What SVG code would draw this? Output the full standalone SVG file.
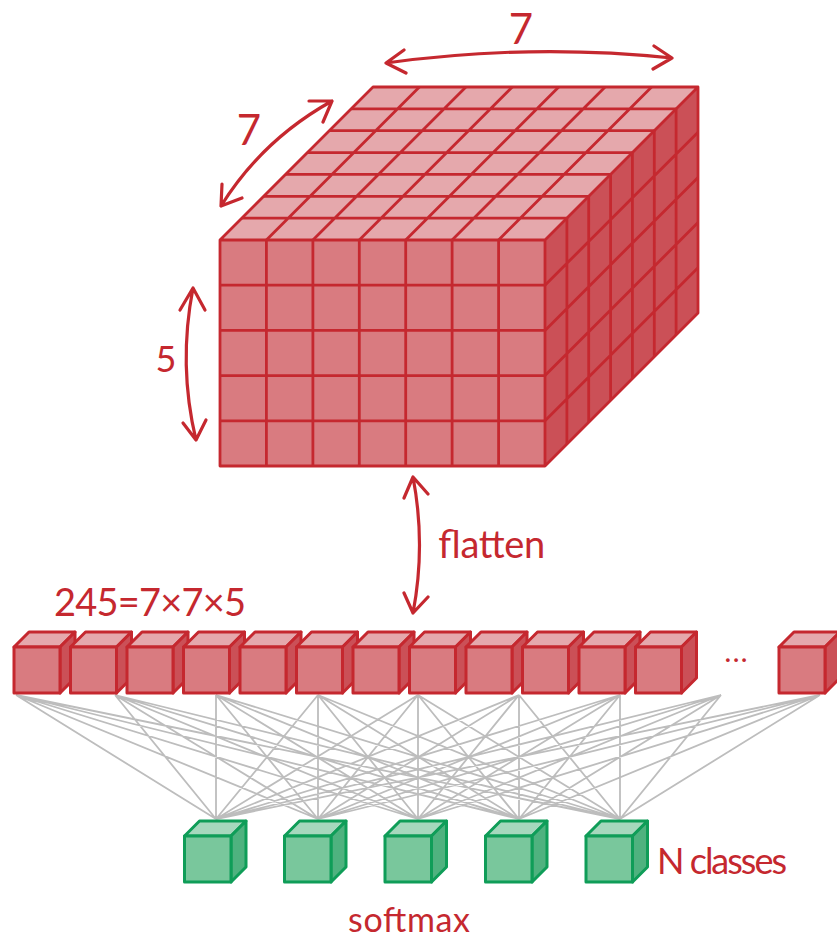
<svg xmlns="http://www.w3.org/2000/svg" width="837" height="938" viewBox="0 0 837 938">
<style>
.bg{fill:#fff}
.f{fill:#d97b80}.t{fill:#e5a8ac}.s{fill:#cb5057}
.rs{stroke:#c5282f;stroke-width:3;stroke-linejoin:round}
.grid{fill:none;stroke:#c5282f;stroke-width:2.8;stroke-linejoin:round}
.gf{fill:#79c79c}.gt{fill:#a6d8bd}.gs{fill:#4fb27f}
.gn{stroke:#0f9d58;stroke-width:3;stroke-linejoin:round}
.arrow{fill:none;stroke:#c5282f;stroke-width:3.2;stroke-linecap:round;stroke-linejoin:round}
.link{stroke:#bdbdbd;stroke-width:1.8;fill:none}
.lbl{font-family:"Lato","Liberation Sans",sans-serif;fill:#c5282f}
</style>
<defs>
<g id="red">
<polygon class="t rs" points="0,15 15,0 61,0 46,15"/>
<polygon class="s rs" points="46,15 61,0 61,46 46,61"/>
<rect class="f rs" x="0" y="15" width="46" height="46"/>
</g>
<g id="green">
<polygon class="gt gn" points="0,15 15,0 61.500,0 46.500,15"/>
<polygon class="gs gn" points="46.500,15 61.500,0 61.500,46 46.500,61"/>
<rect class="gf gn" x="0" y="15" width="46.500" height="46"/>
</g>
</defs>
<rect class="bg" width="837" height="938"/>
<g id="connectors">
<path class="link" d="M16 695L216 819M16 695L318 819M16 695L418 819M16 695L519 819M16 695L620 819M115 695L216 819M115 695L318 819M115 695L418 819M115 695L519 819M115 695L620 819M216 695L216 819M216 695L318 819M216 695L418 819M216 695L519 819M216 695L620 819M318 695L216 819M318 695L318 819M318 695L418 819M318 695L519 819M318 695L620 819M418 695L216 819M418 695L318 819M418 695L418 819M418 695L519 819M418 695L620 819M519 695L216 819M519 695L318 819M519 695L418 819M519 695L519 819M519 695L620 819M620 695L216 819M620 695L318 819M620 695L418 819M620 695L519 819M620 695L620 819M721 695L216 819M721 695L318 819M721 695L418 819M721 695L519 819M721 695L620 819M820 695L216 819M820 695L318 819M820 695L418 819M820 695L519 819M820 695L620 819"/>
<path id="arrow-width" class="arrow" d="M386 63Q530 43 672 58M404 50L386 63L406 73M654 46L672 58L653 69"/>
<path id="arrow-depth" class="arrow" d="M221 206Q262 140 332 101M242 198L221 206L222 184M309 101L332 101L323 122"/>
<path id="arrow-height" class="arrow" d="M193 288Q178 365 196 440M180 310L193 288L205 310M183 423L196 440L206 420"/>
<path id="arrow-flatten" class="arrow" d="M413 477Q426 545 413 613M404 498L413 477L428 494M404 593L413 613L428 597"/>
</g>
<g id="volume">
<polygon class="t" points="220,240 373,87 698,87 545,240"/>
<polygon class="s" points="545,240 698,87 698,313 545,466"/>
<rect class="f" x="220" y="240" width="325" height="226"/>
<path class="grid" d="M220 240L373 87H698V313L545 466H220V240H545V466M545 240L698 87"/>
<path class="grid" d="M241.900 218.100H566.900M263.700 196.300H588.700M285.600 174.400H610.600M307.400 152.600H632.400M329.300 130.700H654.300M351.100 108.900H676.100M266.400 240L419.400 87M312.900 240L465.900 87M359.300 240L512.300 87M405.700 240L558.700 87M452.100 240L605.100 87M498.600 240L651.600 87"/>
<path class="grid" d="M566.900 218.100V444.100M588.700 196.300V422.300M610.600 174.400V400.400M632.400 152.600V378.600M654.300 130.700V356.700M676.100 108.900V334.900M545 285.200L698 132.200M545 330.400L698 177.400M545 375.600L698 222.600M545 420.800L698 267.800"/>
<path class="grid" d="M266.400 240V466M312.900 240V466M359.300 240V466M405.700 240V466M452.100 240V466M498.600 240V466M220 285.200H545M220 330.400H545M220 375.600H545M220 420.800H545"/>
</g>
<g id="flat-1"><use href="#red" x="14" y="632"/></g>
<g id="flat-2"><use href="#red" x="70.500" y="632"/></g>
<g id="flat-3"><use href="#red" x="127" y="632"/></g>
<g id="flat-4"><use href="#red" x="183.500" y="632"/></g>
<g id="flat-5"><use href="#red" x="240" y="632"/></g>
<g id="flat-6"><use href="#red" x="296.500" y="632"/></g>
<g id="flat-7"><use href="#red" x="353" y="632"/></g>
<g id="flat-8"><use href="#red" x="409.500" y="632"/></g>
<g id="flat-9"><use href="#red" x="466" y="632"/></g>
<g id="flat-10"><use href="#red" x="522.500" y="632"/></g>
<g id="flat-11"><use href="#red" x="579" y="632"/></g>
<g id="flat-12"><use href="#red" x="635.500" y="632"/></g>
<g id="flat-last"><use href="#red" x="779" y="632"/></g>
<g id="out-1"><use href="#green" x="184.500" y="821"/></g>
<g id="out-2"><use href="#green" x="284.500" y="821"/></g>
<g id="out-3"><use href="#green" x="385" y="821"/></g>
<g id="out-4"><use href="#green" x="485.500" y="821"/></g>
<g id="out-5"><use href="#green" x="586" y="821"/></g>
<g id="labels">
<text class="lbl" x="521" y="44" font-size="42" text-anchor="middle">7</text>
<text class="lbl" x="249" y="145" font-size="42" text-anchor="middle">7</text>
<text class="lbl" x="166" y="372" font-size="36" text-anchor="middle">5</text>
<text class="lbl" x="438" y="558" font-size="38" textLength="107" lengthAdjust="spacing">flatten</text>
<text class="lbl" x="54" y="616" font-size="38" textLength="192" lengthAdjust="spacing">245=7×7×5</text>
<text class="lbl" x="725" y="662" font-size="24" font-weight="700" textLength="22" lengthAdjust="spacing">...</text>
<text class="lbl" x="657" y="874" font-size="36" textLength="130" lengthAdjust="spacing">N classes</text>
<text class="lbl" x="348" y="932" font-size="34" textLength="122" lengthAdjust="spacing">softmax</text>
</g>
</svg>
